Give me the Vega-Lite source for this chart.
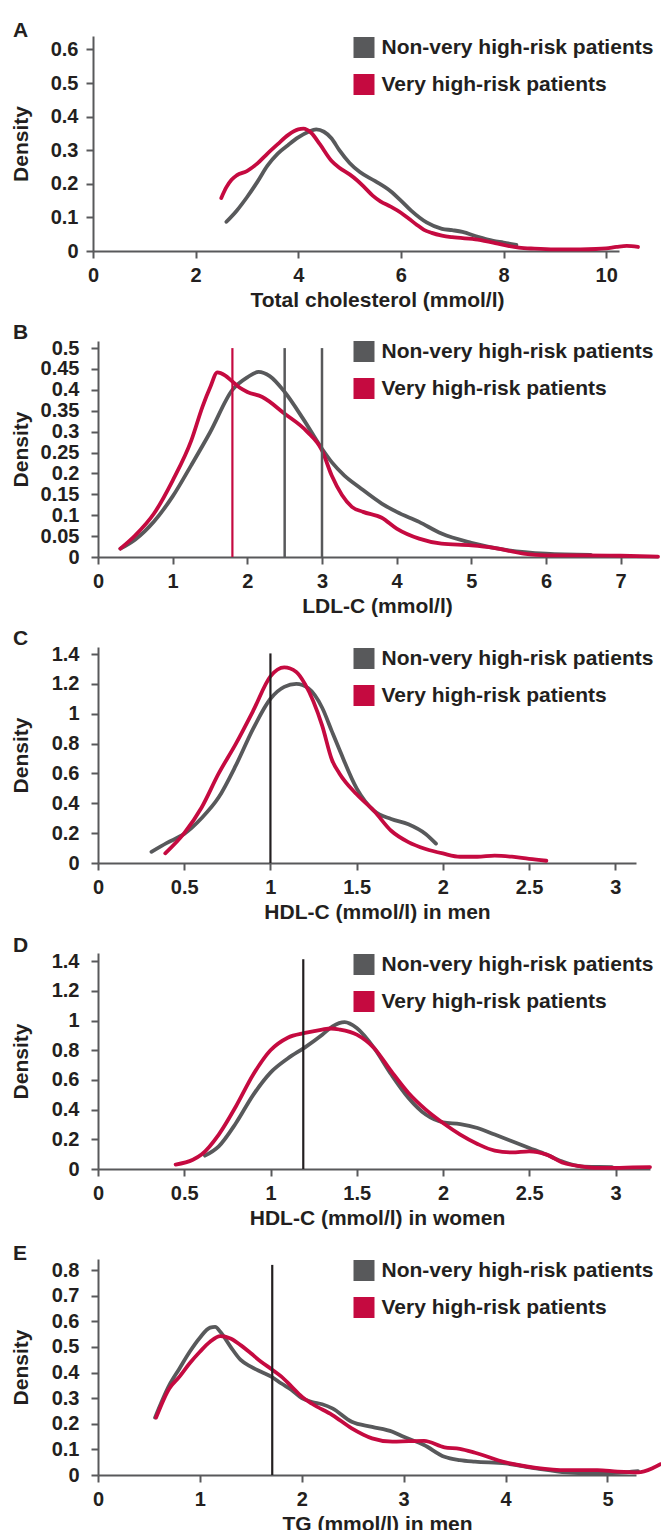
{
  "$schema": "https://vega.github.io/schema/vega-lite/v6.json",
  "padding": {"left": 10, "top": 20, "right": 0, "bottom": 0},
  "background": "white",
  "spacing": 90,
  "bounds": "flush",
  "resolve": {"legend": {"color": "independent"}},
  "config": {
    "font": "Liberation Sans",
    "view": {"stroke": null},
    "axis": {"domainColor": "#58595b", "domainWidth": 2, "tickColor": "#58595b", "tickWidth": 2, "tickSize": 7, "grid": false,
      "labelFont": "Liberation Sans", "labelFontSize": 20, "labelFontWeight": "bold", "labelColor": "#231f20",
      "titleFont": "Liberation Sans", "titleFontSize": 21, "titleFontWeight": "bold", "titleColor": "#231f20",
      "format": "~r", "labelFlush": false, "labelOverlap": false},
    "axisX": {"labelPadding": 7, "titleY": 38.5, "titleX": 279},
    "axisY": {"labelPadding": 12, "titleX": -67},
    "legend": {"labelFont": "Liberation Sans", "labelFontSize": 21, "labelFontWeight": "bold", "labelColor": "#231f20", "labelLimit": 500,
      "symbolType": "M-20,0H20", "symbolSize": 1.1025, "symbolStrokeWidth": 21,
      "rowPadding": 15, "labelOffset": 6, "padding": 0},
    "line": {"strokeJoin": "bevel"},
    "title": {"anchor": "start", "frame": "bounds", "font": "Liberation Sans", "fontSize": 21, "fontWeight": "bold", "color": "#231f20", "baseline": "alphabetic", "offset": -5, "dx": 3}
  },
  "vconcat": [
    {
      "title": {"text": "A"},
      "width": 526, "height": 215,
      "encoding": {
        "x": {"field": "x", "type": "quantitative", "scale": {"domain": [0, 10.25], "range": [-5, 521], "nice": false, "zero": false},
          "axis": {"values": [0, 2, 4, 6, 8, 10], "title": "Total cholesterol (mmol/l)"}},
        "y": {"field": "y", "type": "quantitative", "scale": {"domain": [0, 0.64], "nice": false},
          "axis": {"values": [0, 0.1, 0.2, 0.3, 0.4, 0.5, 0.6], "title": "Density", "offset": 5, "labelPadding": 8, "titleX": -62}}
      },
      "layer": [
        {
          "data": {"values": [
            {"group": "Non-very high-risk patients", "x": 2.6, "y": 0.087},
            {"group": "Non-very high-risk patients", "x": 2.8, "y": 0.12},
            {"group": "Non-very high-risk patients", "x": 3.0, "y": 0.16},
            {"group": "Non-very high-risk patients", "x": 3.2, "y": 0.205},
            {"group": "Non-very high-risk patients", "x": 3.4, "y": 0.254},
            {"group": "Non-very high-risk patients", "x": 3.6, "y": 0.29},
            {"group": "Non-very high-risk patients", "x": 3.8, "y": 0.315},
            {"group": "Non-very high-risk patients", "x": 4.0, "y": 0.338},
            {"group": "Non-very high-risk patients", "x": 4.2, "y": 0.355},
            {"group": "Non-very high-risk patients", "x": 4.35, "y": 0.362},
            {"group": "Non-very high-risk patients", "x": 4.5, "y": 0.355},
            {"group": "Non-very high-risk patients", "x": 4.65, "y": 0.335},
            {"group": "Non-very high-risk patients", "x": 4.8, "y": 0.3},
            {"group": "Non-very high-risk patients", "x": 5.0, "y": 0.262},
            {"group": "Non-very high-risk patients", "x": 5.2, "y": 0.235},
            {"group": "Non-very high-risk patients", "x": 5.5, "y": 0.208},
            {"group": "Non-very high-risk patients", "x": 5.8, "y": 0.178},
            {"group": "Non-very high-risk patients", "x": 6.0, "y": 0.15},
            {"group": "Non-very high-risk patients", "x": 6.2, "y": 0.12},
            {"group": "Non-very high-risk patients", "x": 6.5, "y": 0.085},
            {"group": "Non-very high-risk patients", "x": 6.8, "y": 0.066},
            {"group": "Non-very high-risk patients", "x": 7.0, "y": 0.062},
            {"group": "Non-very high-risk patients", "x": 7.2, "y": 0.057},
            {"group": "Non-very high-risk patients", "x": 7.5, "y": 0.042},
            {"group": "Non-very high-risk patients", "x": 7.8, "y": 0.03},
            {"group": "Non-very high-risk patients", "x": 8.0, "y": 0.025},
            {"group": "Non-very high-risk patients", "x": 8.25, "y": 0.018},
            {"group": "Very high-risk patients", "x": 2.5, "y": 0.158},
            {"group": "Very high-risk patients", "x": 2.6, "y": 0.19},
            {"group": "Very high-risk patients", "x": 2.7, "y": 0.212},
            {"group": "Very high-risk patients", "x": 2.8, "y": 0.225},
            {"group": "Very high-risk patients", "x": 3.0, "y": 0.238},
            {"group": "Very high-risk patients", "x": 3.2, "y": 0.26},
            {"group": "Very high-risk patients", "x": 3.4, "y": 0.29},
            {"group": "Very high-risk patients", "x": 3.6, "y": 0.318},
            {"group": "Very high-risk patients", "x": 3.8, "y": 0.345},
            {"group": "Very high-risk patients", "x": 4.0, "y": 0.362},
            {"group": "Very high-risk patients", "x": 4.1, "y": 0.364},
            {"group": "Very high-risk patients", "x": 4.25, "y": 0.352},
            {"group": "Very high-risk patients", "x": 4.42, "y": 0.318},
            {"group": "Very high-risk patients", "x": 4.65, "y": 0.268},
            {"group": "Very high-risk patients", "x": 4.8, "y": 0.248},
            {"group": "Very high-risk patients", "x": 5.0, "y": 0.228},
            {"group": "Very high-risk patients", "x": 5.15, "y": 0.21},
            {"group": "Very high-risk patients", "x": 5.3, "y": 0.188},
            {"group": "Very high-risk patients", "x": 5.45, "y": 0.165},
            {"group": "Very high-risk patients", "x": 5.6, "y": 0.148},
            {"group": "Very high-risk patients", "x": 5.8, "y": 0.132},
            {"group": "Very high-risk patients", "x": 6.0, "y": 0.114},
            {"group": "Very high-risk patients", "x": 6.15, "y": 0.097},
            {"group": "Very high-risk patients", "x": 6.3, "y": 0.079},
            {"group": "Very high-risk patients", "x": 6.45, "y": 0.063},
            {"group": "Very high-risk patients", "x": 6.6, "y": 0.054},
            {"group": "Very high-risk patients", "x": 6.8, "y": 0.046},
            {"group": "Very high-risk patients", "x": 7.0, "y": 0.041},
            {"group": "Very high-risk patients", "x": 7.5, "y": 0.034},
            {"group": "Very high-risk patients", "x": 7.8, "y": 0.025},
            {"group": "Very high-risk patients", "x": 8.0, "y": 0.018},
            {"group": "Very high-risk patients", "x": 8.3, "y": 0.01},
            {"group": "Very high-risk patients", "x": 8.6, "y": 0.007},
            {"group": "Very high-risk patients", "x": 9.0, "y": 0.005},
            {"group": "Very high-risk patients", "x": 9.5, "y": 0.005},
            {"group": "Very high-risk patients", "x": 9.8, "y": 0.006},
            {"group": "Very high-risk patients", "x": 10.0, "y": 0.008},
            {"group": "Very high-risk patients", "x": 10.2, "y": 0.012},
            {"group": "Very high-risk patients", "x": 10.4, "y": 0.015},
            {"group": "Very high-risk patients", "x": 10.62, "y": 0.012}
          ]},
          "mark": {"type": "line", "strokeWidth": 3.8, "strokeCap": "round", "strokeJoin": "round", "interpolate": "monotone"},
          "encoding": {
            "color": {"field": "group", "type": "nominal",
              "scale": {"domain": ["Non-very high-risk patients", "Very high-risk patients"], "range": ["#58595b", "#c50a40"]},
              "legend": {"orient": "none", "legendX": 254.5, "legendY": 0, "title": null}}
          }
        }
      ]
    },
    {
      "title": {"text": "B"},
      "width": 560, "height": 216,
      "encoding": {
        "x": {"field": "x", "type": "quantitative", "scale": {"domain": [0, 7.5], "nice": false, "zero": false},
          "axis": {"values": [0, 1, 2, 3, 4, 5, 6, 7], "title": "LDL-C (mmol/l)"}},
        "y": {"field": "y", "type": "quantitative", "scale": {"domain": [0, 0.517], "nice": false},
          "axis": {"values": [0, 0.05, 0.1, 0.15, 0.2, 0.25, 0.3, 0.35, 0.4, 0.45, 0.5], "title": "Density"}}
      },
      "layer": [
        {
          "data": {"values": [
            {"group": "Non-very high-risk patients", "x": 0.3, "y": 0.02},
            {"group": "Non-very high-risk patients", "x": 0.5, "y": 0.042},
            {"group": "Non-very high-risk patients", "x": 0.75, "y": 0.085},
            {"group": "Non-very high-risk patients", "x": 1.0, "y": 0.145},
            {"group": "Non-very high-risk patients", "x": 1.25, "y": 0.22},
            {"group": "Non-very high-risk patients", "x": 1.5, "y": 0.298},
            {"group": "Non-very high-risk patients", "x": 1.8, "y": 0.4},
            {"group": "Non-very high-risk patients", "x": 2.0, "y": 0.43},
            {"group": "Non-very high-risk patients", "x": 2.15, "y": 0.443},
            {"group": "Non-very high-risk patients", "x": 2.3, "y": 0.433},
            {"group": "Non-very high-risk patients", "x": 2.5, "y": 0.395},
            {"group": "Non-very high-risk patients", "x": 2.75, "y": 0.33},
            {"group": "Non-very high-risk patients", "x": 3.0, "y": 0.259},
            {"group": "Non-very high-risk patients", "x": 3.13, "y": 0.227},
            {"group": "Non-very high-risk patients", "x": 3.3, "y": 0.195},
            {"group": "Non-very high-risk patients", "x": 3.5, "y": 0.167},
            {"group": "Non-very high-risk patients", "x": 3.8, "y": 0.128},
            {"group": "Non-very high-risk patients", "x": 4.0, "y": 0.108},
            {"group": "Non-very high-risk patients", "x": 4.3, "y": 0.084},
            {"group": "Non-very high-risk patients", "x": 4.6, "y": 0.056},
            {"group": "Non-very high-risk patients", "x": 5.0, "y": 0.034},
            {"group": "Non-very high-risk patients", "x": 5.5, "y": 0.016},
            {"group": "Non-very high-risk patients", "x": 6.0, "y": 0.008},
            {"group": "Non-very high-risk patients", "x": 6.6, "y": 0.005},
            {"group": "Very high-risk patients", "x": 0.3, "y": 0.02},
            {"group": "Very high-risk patients", "x": 0.5, "y": 0.052},
            {"group": "Very high-risk patients", "x": 0.75, "y": 0.104},
            {"group": "Very high-risk patients", "x": 1.0, "y": 0.183},
            {"group": "Very high-risk patients", "x": 1.25, "y": 0.279},
            {"group": "Very high-risk patients", "x": 1.4, "y": 0.36},
            {"group": "Very high-risk patients", "x": 1.5, "y": 0.405},
            {"group": "Very high-risk patients", "x": 1.6, "y": 0.442},
            {"group": "Very high-risk patients", "x": 1.7, "y": 0.435},
            {"group": "Very high-risk patients", "x": 1.8, "y": 0.42},
            {"group": "Very high-risk patients", "x": 1.9, "y": 0.405},
            {"group": "Very high-risk patients", "x": 2.0, "y": 0.395},
            {"group": "Very high-risk patients", "x": 2.2, "y": 0.383},
            {"group": "Very high-risk patients", "x": 2.5, "y": 0.343},
            {"group": "Very high-risk patients", "x": 2.8, "y": 0.3},
            {"group": "Very high-risk patients", "x": 3.0, "y": 0.255},
            {"group": "Very high-risk patients", "x": 3.13, "y": 0.195},
            {"group": "Very high-risk patients", "x": 3.4, "y": 0.12},
            {"group": "Very high-risk patients", "x": 3.55, "y": 0.108},
            {"group": "Very high-risk patients", "x": 3.8, "y": 0.094},
            {"group": "Very high-risk patients", "x": 4.0, "y": 0.068},
            {"group": "Very high-risk patients", "x": 4.3, "y": 0.044},
            {"group": "Very high-risk patients", "x": 4.6, "y": 0.032},
            {"group": "Very high-risk patients", "x": 5.0, "y": 0.028},
            {"group": "Very high-risk patients", "x": 5.3, "y": 0.022},
            {"group": "Very high-risk patients", "x": 5.7, "y": 0.008},
            {"group": "Very high-risk patients", "x": 6.0, "y": 0.004},
            {"group": "Very high-risk patients", "x": 6.5, "y": 0.004},
            {"group": "Very high-risk patients", "x": 7.0, "y": 0.003},
            {"group": "Very high-risk patients", "x": 7.5, "y": 0.001}
          ]},
          "mark": {"type": "line", "strokeWidth": 3.8, "strokeCap": "round", "strokeJoin": "round", "interpolate": "monotone"},
          "encoding": {
            "color": {"field": "group", "type": "nominal",
              "scale": {"domain": ["Non-very high-risk patients", "Very high-risk patients"], "range": ["#58595b", "#c50a40"]},
              "legend": {"orient": "none", "legendX": 254.5, "legendY": -1, "title": null}}
          }
        },
        {
          "data": {"values": [{"x": 2.5, "y": 0.5}, {"x": 3.0, "y": 0.5}]},
          "mark": {"type": "rule", "color": "#58595b", "strokeWidth": 2.5},
          "encoding": {"y2": {"datum": 0}}
        },
        {
          "data": {"values": [{"x": 1.8, "y": 0.5}]},
          "mark": {"type": "rule", "color": "#c50a40", "strokeWidth": 2.2},
          "encoding": {"y2": {"datum": 0}}
        }
      ]
    },
    {
      "title": {"text": "C"},
      "width": 538, "height": 216,
      "encoding": {
        "x": {"field": "x", "type": "quantitative", "scale": {"domain": [0, 3.12], "nice": false, "zero": false},
          "axis": {"values": [0, 0.5, 1, 1.5, 2, 2.5, 3], "title": "HDL-C (mmol/l) in men"}},
        "y": {"field": "y", "type": "quantitative", "scale": {"domain": [0, 1.447], "nice": false},
          "axis": {"values": [0, 0.2, 0.4, 0.6, 0.8, 1, 1.2, 1.4], "title": "Density"}}
      },
      "layer": [
        {
          "data": {"values": [
            {"group": "Non-very high-risk patients", "x": 0.31, "y": 0.075},
            {"group": "Non-very high-risk patients", "x": 0.4, "y": 0.135},
            {"group": "Non-very high-risk patients", "x": 0.5, "y": 0.195},
            {"group": "Non-very high-risk patients", "x": 0.6, "y": 0.3},
            {"group": "Non-very high-risk patients", "x": 0.7, "y": 0.44},
            {"group": "Non-very high-risk patients", "x": 0.8, "y": 0.655},
            {"group": "Non-very high-risk patients", "x": 0.9, "y": 0.9},
            {"group": "Non-very high-risk patients", "x": 1.0, "y": 1.1},
            {"group": "Non-very high-risk patients", "x": 1.08, "y": 1.18},
            {"group": "Non-very high-risk patients", "x": 1.15, "y": 1.2},
            {"group": "Non-very high-risk patients", "x": 1.22, "y": 1.17},
            {"group": "Non-very high-risk patients", "x": 1.3, "y": 1.04},
            {"group": "Non-very high-risk patients", "x": 1.357, "y": 0.88},
            {"group": "Non-very high-risk patients", "x": 1.4, "y": 0.76},
            {"group": "Non-very high-risk patients", "x": 1.5, "y": 0.5},
            {"group": "Non-very high-risk patients", "x": 1.6, "y": 0.35},
            {"group": "Non-very high-risk patients", "x": 1.7, "y": 0.295},
            {"group": "Non-very high-risk patients", "x": 1.8, "y": 0.26},
            {"group": "Non-very high-risk patients", "x": 1.9, "y": 0.195},
            {"group": "Non-very high-risk patients", "x": 1.96, "y": 0.13},
            {"group": "Very high-risk patients", "x": 0.39, "y": 0.065},
            {"group": "Very high-risk patients", "x": 0.5, "y": 0.2},
            {"group": "Very high-risk patients", "x": 0.6, "y": 0.37},
            {"group": "Very high-risk patients", "x": 0.7, "y": 0.6},
            {"group": "Very high-risk patients", "x": 0.8, "y": 0.8},
            {"group": "Very high-risk patients", "x": 0.9, "y": 1.02},
            {"group": "Very high-risk patients", "x": 1.0, "y": 1.25},
            {"group": "Very high-risk patients", "x": 1.08, "y": 1.31},
            {"group": "Very high-risk patients", "x": 1.15, "y": 1.28},
            {"group": "Very high-risk patients", "x": 1.2, "y": 1.2},
            {"group": "Very high-risk patients", "x": 1.3, "y": 0.92},
            {"group": "Very high-risk patients", "x": 1.357, "y": 0.69},
            {"group": "Very high-risk patients", "x": 1.4, "y": 0.6},
            {"group": "Very high-risk patients", "x": 1.5, "y": 0.46},
            {"group": "Very high-risk patients", "x": 1.6, "y": 0.35},
            {"group": "Very high-risk patients", "x": 1.7, "y": 0.216},
            {"group": "Very high-risk patients", "x": 1.8, "y": 0.14},
            {"group": "Very high-risk patients", "x": 1.9, "y": 0.094},
            {"group": "Very high-risk patients", "x": 2.0, "y": 0.064},
            {"group": "Very high-risk patients", "x": 2.1, "y": 0.042},
            {"group": "Very high-risk patients", "x": 2.2, "y": 0.042},
            {"group": "Very high-risk patients", "x": 2.3, "y": 0.049},
            {"group": "Very high-risk patients", "x": 2.4, "y": 0.042},
            {"group": "Very high-risk patients", "x": 2.5, "y": 0.027},
            {"group": "Very high-risk patients", "x": 2.6, "y": 0.015}
          ]},
          "mark": {"type": "line", "strokeWidth": 3.8, "strokeCap": "round", "strokeJoin": "round", "interpolate": "monotone"},
          "encoding": {
            "color": {"field": "group", "type": "nominal",
              "scale": {"domain": ["Non-very high-risk patients", "Very high-risk patients"], "range": ["#58595b", "#c50a40"]},
              "legend": {"orient": "none", "legendX": 254.5, "legendY": 0, "title": null}}
          }
        },
        {
          "data": {"values": [{"x": 1.0, "y": 1.404}]},
          "mark": {"type": "rule", "color": "#231f20", "strokeWidth": 2.2},
          "encoding": {"y2": {"datum": 0}}
        }
      ]
    },
    {
      "title": {"text": "D"},
      "width": 552, "height": 216,
      "encoding": {
        "x": {"field": "x", "type": "quantitative", "scale": {"domain": [0, 3.2], "nice": false, "zero": false},
          "axis": {"values": [0, 0.5, 1, 1.5, 2, 2.5, 3], "title": "HDL-C (mmol/l) in women"}},
        "y": {"field": "y", "type": "quantitative", "scale": {"domain": [0, 1.456], "nice": false},
          "axis": {"values": [0, 0.2, 0.4, 0.6, 0.8, 1, 1.2, 1.4], "title": "Density"}}
      },
      "layer": [
        {
          "data": {"values": [
            {"group": "Non-very high-risk patients", "x": 0.62, "y": 0.09},
            {"group": "Non-very high-risk patients", "x": 0.7, "y": 0.153},
            {"group": "Non-very high-risk patients", "x": 0.8, "y": 0.31},
            {"group": "Non-very high-risk patients", "x": 0.9, "y": 0.5},
            {"group": "Non-very high-risk patients", "x": 1.0, "y": 0.65},
            {"group": "Non-very high-risk patients", "x": 1.1, "y": 0.745},
            {"group": "Non-very high-risk patients", "x": 1.2, "y": 0.82},
            {"group": "Non-very high-risk patients", "x": 1.3, "y": 0.905},
            {"group": "Non-very high-risk patients", "x": 1.36, "y": 0.962},
            {"group": "Non-very high-risk patients", "x": 1.43, "y": 0.99},
            {"group": "Non-very high-risk patients", "x": 1.5, "y": 0.95},
            {"group": "Non-very high-risk patients", "x": 1.6, "y": 0.816},
            {"group": "Non-very high-risk patients", "x": 1.7, "y": 0.637},
            {"group": "Non-very high-risk patients", "x": 1.8, "y": 0.479},
            {"group": "Non-very high-risk patients", "x": 1.9, "y": 0.367},
            {"group": "Non-very high-risk patients", "x": 2.0, "y": 0.315},
            {"group": "Non-very high-risk patients", "x": 2.1, "y": 0.303},
            {"group": "Non-very high-risk patients", "x": 2.2, "y": 0.276},
            {"group": "Non-very high-risk patients", "x": 2.3, "y": 0.232},
            {"group": "Non-very high-risk patients", "x": 2.4, "y": 0.187},
            {"group": "Non-very high-risk patients", "x": 2.5, "y": 0.142},
            {"group": "Non-very high-risk patients", "x": 2.6, "y": 0.097},
            {"group": "Non-very high-risk patients", "x": 2.7, "y": 0.047},
            {"group": "Non-very high-risk patients", "x": 2.8, "y": 0.018},
            {"group": "Non-very high-risk patients", "x": 2.9, "y": 0.014},
            {"group": "Non-very high-risk patients", "x": 2.98, "y": 0.013},
            {"group": "Very high-risk patients", "x": 0.45, "y": 0.03},
            {"group": "Very high-risk patients", "x": 0.55, "y": 0.062},
            {"group": "Very high-risk patients", "x": 0.6, "y": 0.097},
            {"group": "Very high-risk patients", "x": 0.7, "y": 0.232},
            {"group": "Very high-risk patients", "x": 0.8, "y": 0.423},
            {"group": "Very high-risk patients", "x": 0.9, "y": 0.637},
            {"group": "Very high-risk patients", "x": 1.0, "y": 0.8},
            {"group": "Very high-risk patients", "x": 1.1, "y": 0.885},
            {"group": "Very high-risk patients", "x": 1.2, "y": 0.917},
            {"group": "Very high-risk patients", "x": 1.3, "y": 0.94},
            {"group": "Very high-risk patients", "x": 1.35, "y": 0.947},
            {"group": "Very high-risk patients", "x": 1.4, "y": 0.94},
            {"group": "Very high-risk patients", "x": 1.5, "y": 0.906},
            {"group": "Very high-risk patients", "x": 1.6, "y": 0.816},
            {"group": "Very high-risk patients", "x": 1.7, "y": 0.659},
            {"group": "Very high-risk patients", "x": 1.8, "y": 0.512},
            {"group": "Very high-risk patients", "x": 1.9, "y": 0.4},
            {"group": "Very high-risk patients", "x": 2.0, "y": 0.31},
            {"group": "Very high-risk patients", "x": 2.1, "y": 0.232},
            {"group": "Very high-risk patients", "x": 2.2, "y": 0.169},
            {"group": "Very high-risk patients", "x": 2.3, "y": 0.124},
            {"group": "Very high-risk patients", "x": 2.4, "y": 0.112},
            {"group": "Very high-risk patients", "x": 2.5, "y": 0.119},
            {"group": "Very high-risk patients", "x": 2.6, "y": 0.097},
            {"group": "Very high-risk patients", "x": 2.7, "y": 0.04},
            {"group": "Very high-risk patients", "x": 2.8, "y": 0.018},
            {"group": "Very high-risk patients", "x": 2.9, "y": 0.007},
            {"group": "Very high-risk patients", "x": 3.0, "y": 0.007},
            {"group": "Very high-risk patients", "x": 3.1, "y": 0.011},
            {"group": "Very high-risk patients", "x": 3.2, "y": 0.013}
          ]},
          "mark": {"type": "line", "strokeWidth": 3.8, "strokeCap": "round", "strokeJoin": "round", "interpolate": "monotone"},
          "encoding": {
            "color": {"field": "group", "type": "nominal",
              "scale": {"domain": ["Non-very high-risk patients", "Very high-risk patients"], "range": ["#58595b", "#c50a40"]},
              "legend": {"orient": "none", "legendX": 254.5, "legendY": 0, "title": null}}
          }
        },
        {
          "data": {"values": [{"x": 1.19, "y": 1.414}]},
          "mark": {"type": "rule", "color": "#231f20", "strokeWidth": 2.2},
          "encoding": {"y2": {"datum": 0}}
        }
      ]
    },
    {
      "title": {"text": "E"},
      "width": 538, "height": 216,
      "encoding": {
        "x": {"field": "x", "type": "quantitative", "scale": {"domain": [0, 5.28], "nice": false, "zero": false},
          "axis": {"values": [0, 1, 2, 3, 4, 5], "title": "TG (mmol/l) in men"}},
        "y": {"field": "y", "type": "quantitative", "scale": {"domain": [0, 0.843], "nice": false},
          "axis": {"values": [0, 0.1, 0.2, 0.3, 0.4, 0.5, 0.6, 0.7, 0.8], "title": "Density"}}
      },
      "layer": [
        {
          "data": {"values": [
            {"group": "Non-very high-risk patients", "x": 0.56, "y": 0.224},
            {"group": "Non-very high-risk patients", "x": 0.7, "y": 0.351},
            {"group": "Non-very high-risk patients", "x": 0.8, "y": 0.416},
            {"group": "Non-very high-risk patients", "x": 0.9, "y": 0.481},
            {"group": "Non-very high-risk patients", "x": 1.0, "y": 0.536},
            {"group": "Non-very high-risk patients", "x": 1.1, "y": 0.575},
            {"group": "Non-very high-risk patients", "x": 1.15, "y": 0.578},
            {"group": "Non-very high-risk patients", "x": 1.2, "y": 0.559},
            {"group": "Non-very high-risk patients", "x": 1.3, "y": 0.501},
            {"group": "Non-very high-risk patients", "x": 1.4, "y": 0.449},
            {"group": "Non-very high-risk patients", "x": 1.5, "y": 0.423},
            {"group": "Non-very high-risk patients", "x": 1.6, "y": 0.403},
            {"group": "Non-very high-risk patients", "x": 1.7, "y": 0.384},
            {"group": "Non-very high-risk patients", "x": 1.8, "y": 0.357},
            {"group": "Non-very high-risk patients", "x": 1.9, "y": 0.332},
            {"group": "Non-very high-risk patients", "x": 2.0, "y": 0.3},
            {"group": "Non-very high-risk patients", "x": 2.1, "y": 0.285},
            {"group": "Non-very high-risk patients", "x": 2.2, "y": 0.276},
            {"group": "Non-very high-risk patients", "x": 2.3, "y": 0.26},
            {"group": "Non-very high-risk patients", "x": 2.49, "y": 0.208},
            {"group": "Non-very high-risk patients", "x": 2.69, "y": 0.188},
            {"group": "Non-very high-risk patients", "x": 2.89, "y": 0.169},
            {"group": "Non-very high-risk patients", "x": 3.0, "y": 0.149},
            {"group": "Non-very high-risk patients", "x": 3.2, "y": 0.117},
            {"group": "Non-very high-risk patients", "x": 3.4, "y": 0.071},
            {"group": "Non-very high-risk patients", "x": 3.55, "y": 0.058},
            {"group": "Non-very high-risk patients", "x": 3.7, "y": 0.052},
            {"group": "Non-very high-risk patients", "x": 4.0, "y": 0.045},
            {"group": "Non-very high-risk patients", "x": 4.3, "y": 0.026},
            {"group": "Non-very high-risk patients", "x": 4.6, "y": 0.01},
            {"group": "Non-very high-risk patients", "x": 4.9, "y": 0.005},
            {"group": "Non-very high-risk patients", "x": 5.1, "y": 0.008},
            {"group": "Non-very high-risk patients", "x": 5.3, "y": 0.015},
            {"group": "Very high-risk patients", "x": 0.57, "y": 0.224},
            {"group": "Very high-risk patients", "x": 0.7, "y": 0.338},
            {"group": "Very high-risk patients", "x": 0.8, "y": 0.384},
            {"group": "Very high-risk patients", "x": 0.9, "y": 0.436},
            {"group": "Very high-risk patients", "x": 1.0, "y": 0.481},
            {"group": "Very high-risk patients", "x": 1.1, "y": 0.52},
            {"group": "Very high-risk patients", "x": 1.2, "y": 0.542},
            {"group": "Very high-risk patients", "x": 1.3, "y": 0.533},
            {"group": "Very high-risk patients", "x": 1.4, "y": 0.507},
            {"group": "Very high-risk patients", "x": 1.5, "y": 0.475},
            {"group": "Very high-risk patients", "x": 1.6, "y": 0.442},
            {"group": "Very high-risk patients", "x": 1.7, "y": 0.414},
            {"group": "Very high-risk patients", "x": 1.8, "y": 0.384},
            {"group": "Very high-risk patients", "x": 1.9, "y": 0.345},
            {"group": "Very high-risk patients", "x": 2.0, "y": 0.306},
            {"group": "Very high-risk patients", "x": 2.1, "y": 0.278},
            {"group": "Very high-risk patients", "x": 2.3, "y": 0.234},
            {"group": "Very high-risk patients", "x": 2.49, "y": 0.182},
            {"group": "Very high-risk patients", "x": 2.69, "y": 0.143},
            {"group": "Very high-risk patients", "x": 2.89, "y": 0.13},
            {"group": "Very high-risk patients", "x": 3.05, "y": 0.132},
            {"group": "Very high-risk patients", "x": 3.2, "y": 0.133},
            {"group": "Very high-risk patients", "x": 3.4, "y": 0.108},
            {"group": "Very high-risk patients", "x": 3.55, "y": 0.102},
            {"group": "Very high-risk patients", "x": 3.7, "y": 0.087},
            {"group": "Very high-risk patients", "x": 4.0, "y": 0.049},
            {"group": "Very high-risk patients", "x": 4.3, "y": 0.028},
            {"group": "Very high-risk patients", "x": 4.6, "y": 0.019},
            {"group": "Very high-risk patients", "x": 4.9, "y": 0.019},
            {"group": "Very high-risk patients", "x": 5.1, "y": 0.013},
            {"group": "Very high-risk patients", "x": 5.3, "y": 0.01},
            {"group": "Very high-risk patients", "x": 5.45, "y": 0.028},
            {"group": "Very high-risk patients", "x": 5.52, "y": 0.042}
          ]},
          "mark": {"type": "line", "strokeWidth": 3.8, "strokeCap": "round", "strokeJoin": "round", "interpolate": "monotone"},
          "encoding": {
            "color": {"field": "group", "type": "nominal",
              "scale": {"domain": ["Non-very high-risk patients", "Very high-risk patients"], "range": ["#58595b", "#c50a40"]},
              "legend": {"orient": "none", "legendX": 254.5, "legendY": 0, "title": null}}
          }
        },
        {
          "data": {"values": [{"x": 1.71, "y": 0.82}]},
          "mark": {"type": "rule", "color": "#231f20", "strokeWidth": 2.2},
          "encoding": {"y2": {"datum": 0}}
        }
      ]
    }
  ]
}
